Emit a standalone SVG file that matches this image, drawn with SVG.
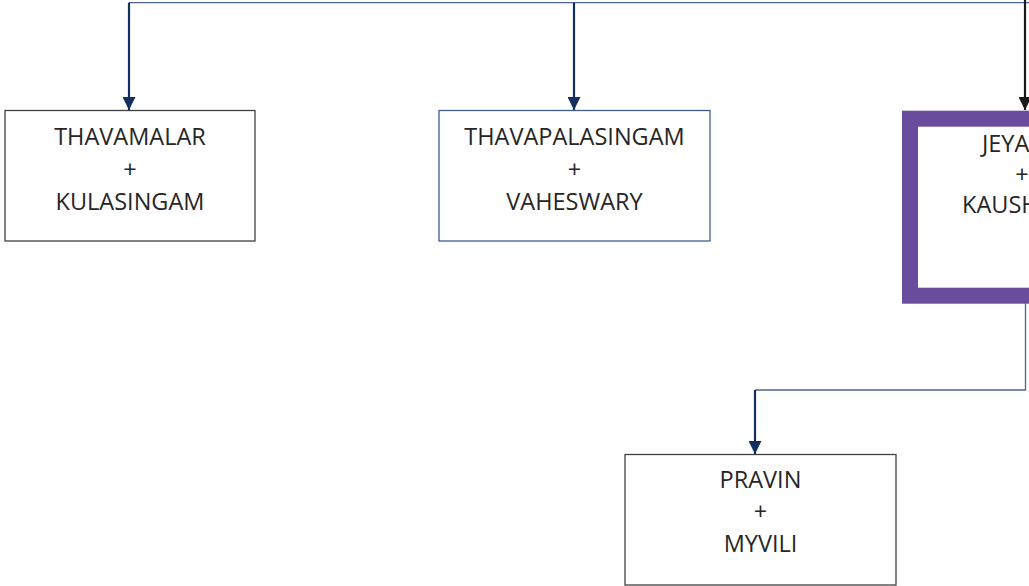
<svg xmlns="http://www.w3.org/2000/svg" width="1029" height="586" viewBox="0 0 1029 586">
<style>
.box{fill:#fff;stroke-width:1.3}
.t{font-family:"Open Sans","Noto Sans",sans-serif;font-size:23.5px;fill:#262626;text-anchor:middle}
.ts{font-family:"Open Sans","Noto Sans",sans-serif;font-size:23.5px;fill:#262626;text-anchor:start}
.thin{fill:none;stroke:#4a6594;stroke-width:1.3}
.arr{fill:none;stroke:#12305f;stroke-width:2.2}
</style>
<defs>
<marker id="ah" viewBox="0 0 10 10" refX="10" refY="5" markerUnits="userSpaceOnUse" markerWidth="13" markerHeight="13" orient="auto">
<path d="M0,0 L10,5 L0,10 Z" fill="#12305f"/>
</marker>
<marker id="ahk" viewBox="0 0 10 10" refX="10" refY="5" markerUnits="userSpaceOnUse" markerWidth="13" markerHeight="13" orient="auto">
<path d="M0,0 L10,5 L0,10 Z" fill="#1a1a1a"/>
</marker>
</defs>
<rect width="1029" height="586" fill="#fff"/>
<g id="connectors">
<path class="thin" d="M129,2.7 H1029"/>
<path class="arr" d="M129,2.7 V110" marker-end="url(#ah)"/>
<path class="arr" d="M574,2.7 V110" marker-end="url(#ah)"/>
<path fill="none" stroke="#1a1a1a" stroke-width="2.2" d="M1025,0 V110" marker-end="url(#ahk)"/>
<path class="thin" d="M1025.5,303 V390 H755"/>
<path class="arr" d="M755,390 V454" marker-end="url(#ah)"/>
</g>
<g id="n1">
<rect class="box" x="5" y="110.5" width="250" height="130.5" stroke="#404040"/>
<text class="t" x="130" y="145">THAVAMALAR</text>
<text class="t" x="130" y="177.5">+</text>
<text class="t" x="130" y="210">KULASINGAM</text>
</g>
<g id="n2">
<rect class="box" x="439" y="110.5" width="271" height="130.5" stroke="#3f5f8f"/>
<text class="t" x="574.5" y="145">THAVAPALASINGAM</text>
<text class="t" x="574.5" y="177.5">+</text>
<text class="t" x="574.5" y="210">VAHESWARY</text>
</g>
<g id="n3">
<rect x="910" y="118.7" width="240" height="177" fill="#fff" stroke="#6a4c9c" stroke-width="16"/>
<text class="ts" x="982" y="152">JEYA</text>
<text class="t" x="1022" y="182.5">+</text>
<text class="ts" x="962" y="213">KAUSH</text>
</g>
<g id="n4">
<rect class="box" x="625" y="454.5" width="271" height="130.5" stroke="#404040"/>
<text class="t" x="760.5" y="488">PRAVIN</text>
<text class="t" x="760.5" y="520">+</text>
<text class="t" x="760.5" y="552">MYVILI</text>
</g>
</svg>
